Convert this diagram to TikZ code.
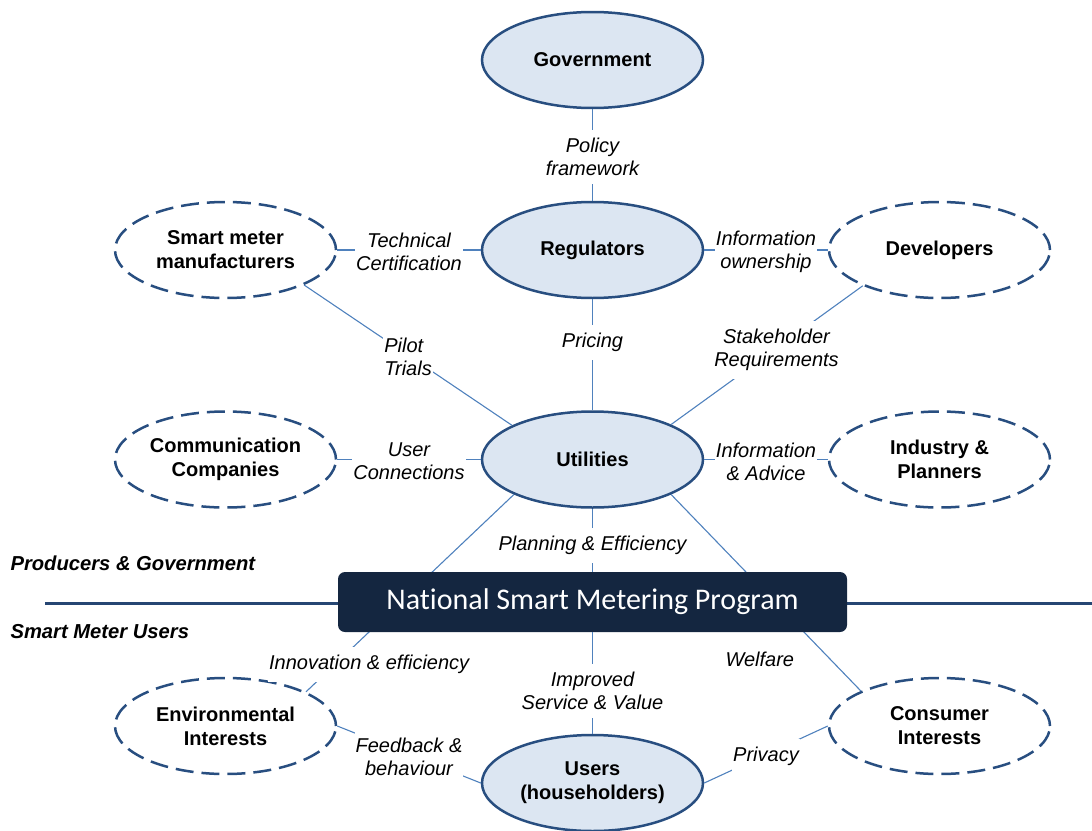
\documentclass[tikz,border=0pt]{standalone}
\usepackage{fontspec}
\setmainfont{Liberation Sans}
\newfontfamily\progfont[Ligatures=NoCommon]{Carlito}
\usetikzlibrary{shapes.geometric}

\definecolor{rimblue}{RGB}{40,78,128}
\definecolor{bodyfill}{RGB}{220,230,242}
\definecolor{linkblue}{RGB}{79,129,189}
\definecolor{navy}{RGB}{20,38,64}
\definecolor{ruleblue}{RGB}{38,70,115}

\tikzset{
	core/.style={ellipse, draw=rimblue, line width=2.5pt, fill=bodyfill, minimum width=221pt, minimum height=96pt, inner sep=0pt, align=center, font=\bfseries\fontsize{20}{24}\selectfont},
	stake/.style={core, fill=white, dash pattern=on 18pt off 8pt},
	link/.style={draw=linkblue, line width=1.1pt},
	tag/.style={fill=white, inner xsep=1pt, inner ysep=8pt, yshift=-2pt, align=center, font=\itshape\fontsize{20}{23}\selectfont},
	side/.style={anchor=west, font=\bfseries\itshape\fontsize{20.2}{24}\selectfont},
	prog/.style={fill=navy, rounded corners=7pt, text=white, minimum width=509pt, minimum height=60pt, font=\progfont\fontsize{30}{36}\selectfont}
}

\begin{document}
\begin{tikzpicture}[x=1pt,y=-1pt]
	\useasboundingbox (0,0) rectangle (1092,830);
	
	%core bodies down the middle
	\node[core] (gov) at (592.5,60) {Government};
	\node[core] (reg) at (592.5,250) {Regulators};
	\node[core] (util) at (592.5,459.5) {Utilities};
	\node[core] (users) at (592.5,783) {Users\\(householders)};
	
	%stakeholders round them, dashed
	\node[stake] (makers) at (225.5,250) {Smart meter\\manufacturers};
	\node[stake] (devs) at (939.5,250) {Developers};
	\node[stake] (comms) at (225.5,459.5) {Communication\\Companies};
	\node[stake] (industry) at (939.5,459.5) {Industry \&\\Planners};
	\node[stake] (env) at (225.5,726) {Environmental\\Interests};
	\node[stake] (cons) at (939.5,726) {Consumer\\Interests};
	
	%links on the producer side
	\draw[link] (gov) -- node[tag] {Policy\\framework} (reg);
	\draw[link] (makers) -- node[tag] {Technical\\Certification} (reg);
	\draw[link] (reg) -- node[tag] {Information\\ownership} (devs);
	\draw[link] (reg) -- node[tag,pos=.37] {Pricing} (util);
	\draw[link] (makers.-24) -- node[tag,align=left] {Pilot\\Trials} (util.157);
	\draw[link] (devs.-155) -- node[tag,pos=.45] {Stakeholder\\Requirements} (util.24);
	\draw[link] (comms) -- node[tag] {User\\Connections} (util);
	\draw[link] (util) -- node[tag] {Information\\\& Advice} (industry);
	
	%links running behind the program box
	\draw[link] (util.-156) -- node[tag,pos=.85,xshift=32pt] {Innovation \& efficiency} (env.23);
	\draw[link] (util.-24) -- node[tag,fill=none,pos=.83,left=33pt] {Welfare} (cons.156);
	
	%divider between producers and users
	\coordinate (ruleL) at (45,603);
	\coordinate (ruleR) at (1092,603);
	\draw[ruleblue, line width=3pt] (ruleL) -- (ruleR);
	\node[side] (prodtxt) at (7,563) {Producers \& Government};
	\node[side] (usertxt) at (7,632) {Smart Meter Users};
	
	%the program itself
	\node[prog] (nsmp) at (592.5,602) {National Smart Metering Program};
	
	%links on the user side
	\draw[link] (util) -- node[tag,pos=.55] {Planning \& Efficiency} (nsmp);
	\draw[link] (nsmp) -- node[tag,pos=.56] {Improved\\Service \& Value} (users);
	\draw[link] (env.east) -- node[tag] {Feedback \&\\behaviour} (users.west);
	\draw[link] (cons.west) -- node[tag] {Privacy} (users.east);
\end{tikzpicture}
\end{document}
